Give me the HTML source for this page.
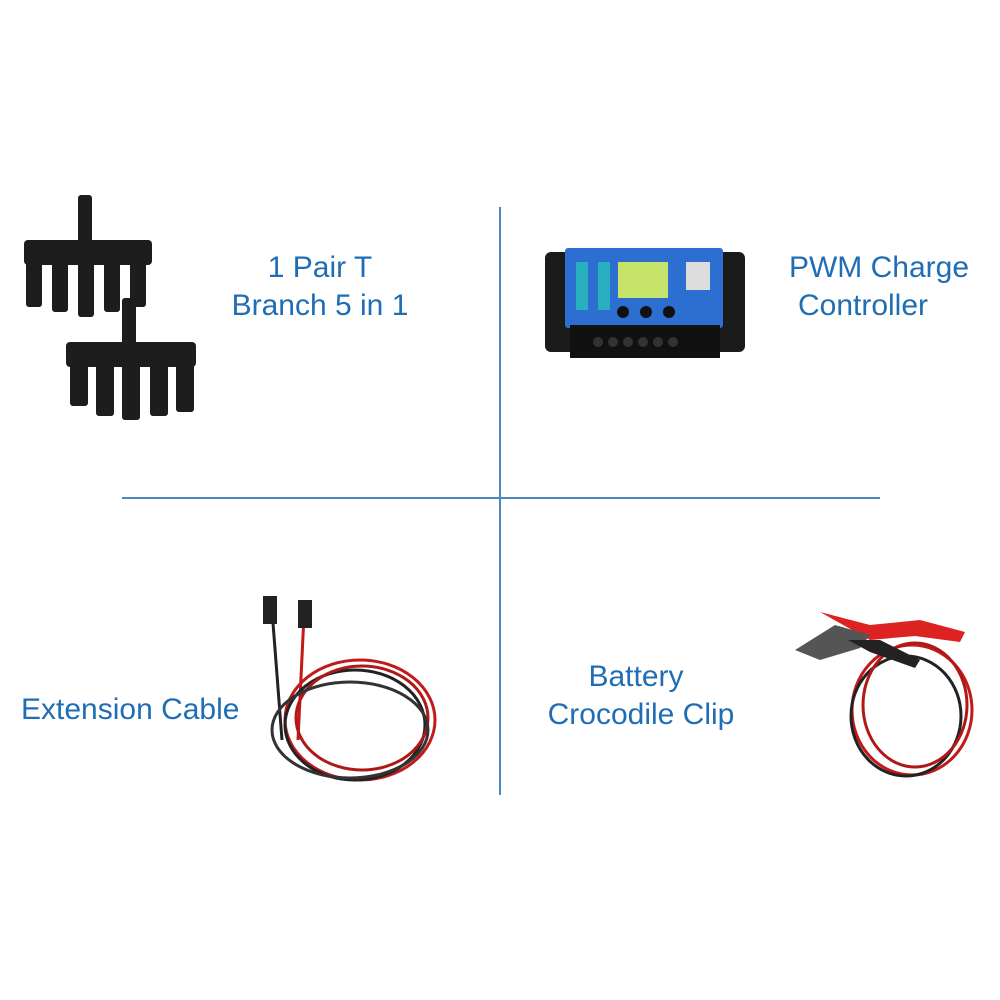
<!DOCTYPE html>
<html><head><meta charset="utf-8"><style>
html,body{margin:0;padding:0;background:#fff;}
#c{position:relative;width:1000px;height:1000px;overflow:hidden;font-family:"Liberation Sans",sans-serif;}
.t{position:absolute;color:#1f6db5;font-size:30px;line-height:38px;white-space:nowrap;text-align:center;}
.vl{position:absolute;left:499px;top:207px;width:2px;height:588px;background:#4a86c0;}
.hl{position:absolute;left:122px;top:497px;width:758px;height:2px;background:#4a86c0;}
</style></head><body><div id="c">
<div class="vl"></div><div class="hl"></div>
<div class="t" style="left:220px;top:249px;width:200px;">1 Pair T</div>
<div class="t" style="left:220px;top:287px;width:200px;">Branch 5 in 1</div>
<div class="t" style="left:779px;top:249px;width:200px;">PWM Charge</div>
<div class="t" style="left:763px;top:287px;width:200px;">Controller</div>
<div class="t" style="left:21px;top:691px;text-align:left;">Extension Cable</div>
<div class="t" style="left:536px;top:658px;width:200px;">Battery</div>
<div class="t" style="left:541px;top:696px;width:200px;">Crocodile Clip</div>

<svg width="1000" height="1000" style="position:absolute;left:0;top:0">
<g fill="#1d1d1d">
<rect x="78" y="195" width="14" height="50" rx="3"/>
<rect x="24" y="240" width="128" height="25" rx="4"/>
<rect x="26" y="262" width="16" height="45" rx="3"/><rect x="52" y="262" width="16" height="50" rx="3"/>
<rect x="78" y="262" width="16" height="55" rx="3"/><rect x="104" y="262" width="16" height="50" rx="3"/>
<rect x="130" y="262" width="16" height="45" rx="3"/>
<rect x="122" y="298" width="14" height="50" rx="3"/>
<rect x="66" y="342" width="130" height="25" rx="4"/>
<rect x="70" y="364" width="18" height="42" rx="3"/><rect x="96" y="364" width="18" height="52" rx="3"/>
<rect x="122" y="364" width="18" height="56" rx="3"/><rect x="150" y="364" width="18" height="52" rx="3"/>
<rect x="176" y="364" width="18" height="48" rx="3"/>
</g>
<rect x="545" y="252" width="200" height="100" rx="6" fill="#1a1a1a"/>
<rect x="565" y="248" width="158" height="80" rx="3" fill="#2d6fd0"/>
<rect x="570" y="325" width="150" height="33" fill="#111"/>
<rect x="618" y="262" width="50" height="36" fill="#c8e36a"/>
<rect x="576" y="262" width="12" height="48" fill="#28b0c0"/>
<rect x="598" y="262" width="12" height="48" fill="#28b0c0"/>
<rect x="686" y="262" width="24" height="28" fill="#ddd"/>
<circle cx="623" cy="312" r="6" fill="#111"/><circle cx="646" cy="312" r="6" fill="#111"/><circle cx="669" cy="312" r="6" fill="#111"/>
<g fill="#333"><circle cx="598" cy="342" r="5"/><circle cx="613" cy="342" r="5"/><circle cx="628" cy="342" r="5"/><circle cx="643" cy="342" r="5"/><circle cx="658" cy="342" r="5"/><circle cx="673" cy="342" r="5"/></g>
<g fill="none" stroke-width="3">
<path d="M272 610 L282 740" stroke="#222"/>
<path d="M304 615 L298 740" stroke="#c21a1a"/>
<ellipse cx="360" cy="720" rx="75" ry="60" stroke="#c21a1a"/>
<ellipse cx="355" cy="725" rx="70" ry="55" stroke="#222"/>
<ellipse cx="362" cy="718" rx="66" ry="52" stroke="#b01818"/>
<ellipse cx="350" cy="730" rx="78" ry="48" stroke="#333"/>
</g>
<rect x="263" y="596" width="14" height="28" fill="#222"/><rect x="298" y="600" width="14" height="28" fill="#222"/>
<g fill="none" stroke-width="3">
<ellipse cx="912" cy="710" rx="60" ry="65" stroke="#c21a1a"/>
<ellipse cx="906" cy="716" rx="55" ry="60" stroke="#222"/>
<ellipse cx="915" cy="705" rx="52" ry="62" stroke="#b01818"/>
</g>
<path d="M820 612 L870 625 L920 620 L965 632 L960 642 L915 636 L870 640 Z" fill="#d22"/>
<path d="M795 650 L835 625 L870 635 L860 648 L820 660 Z" fill="#555"/>
<path d="M848 640 L880 640 L920 660 L915 668 L870 652 Z" fill="#222"/>
</svg>
</div></body></html>
